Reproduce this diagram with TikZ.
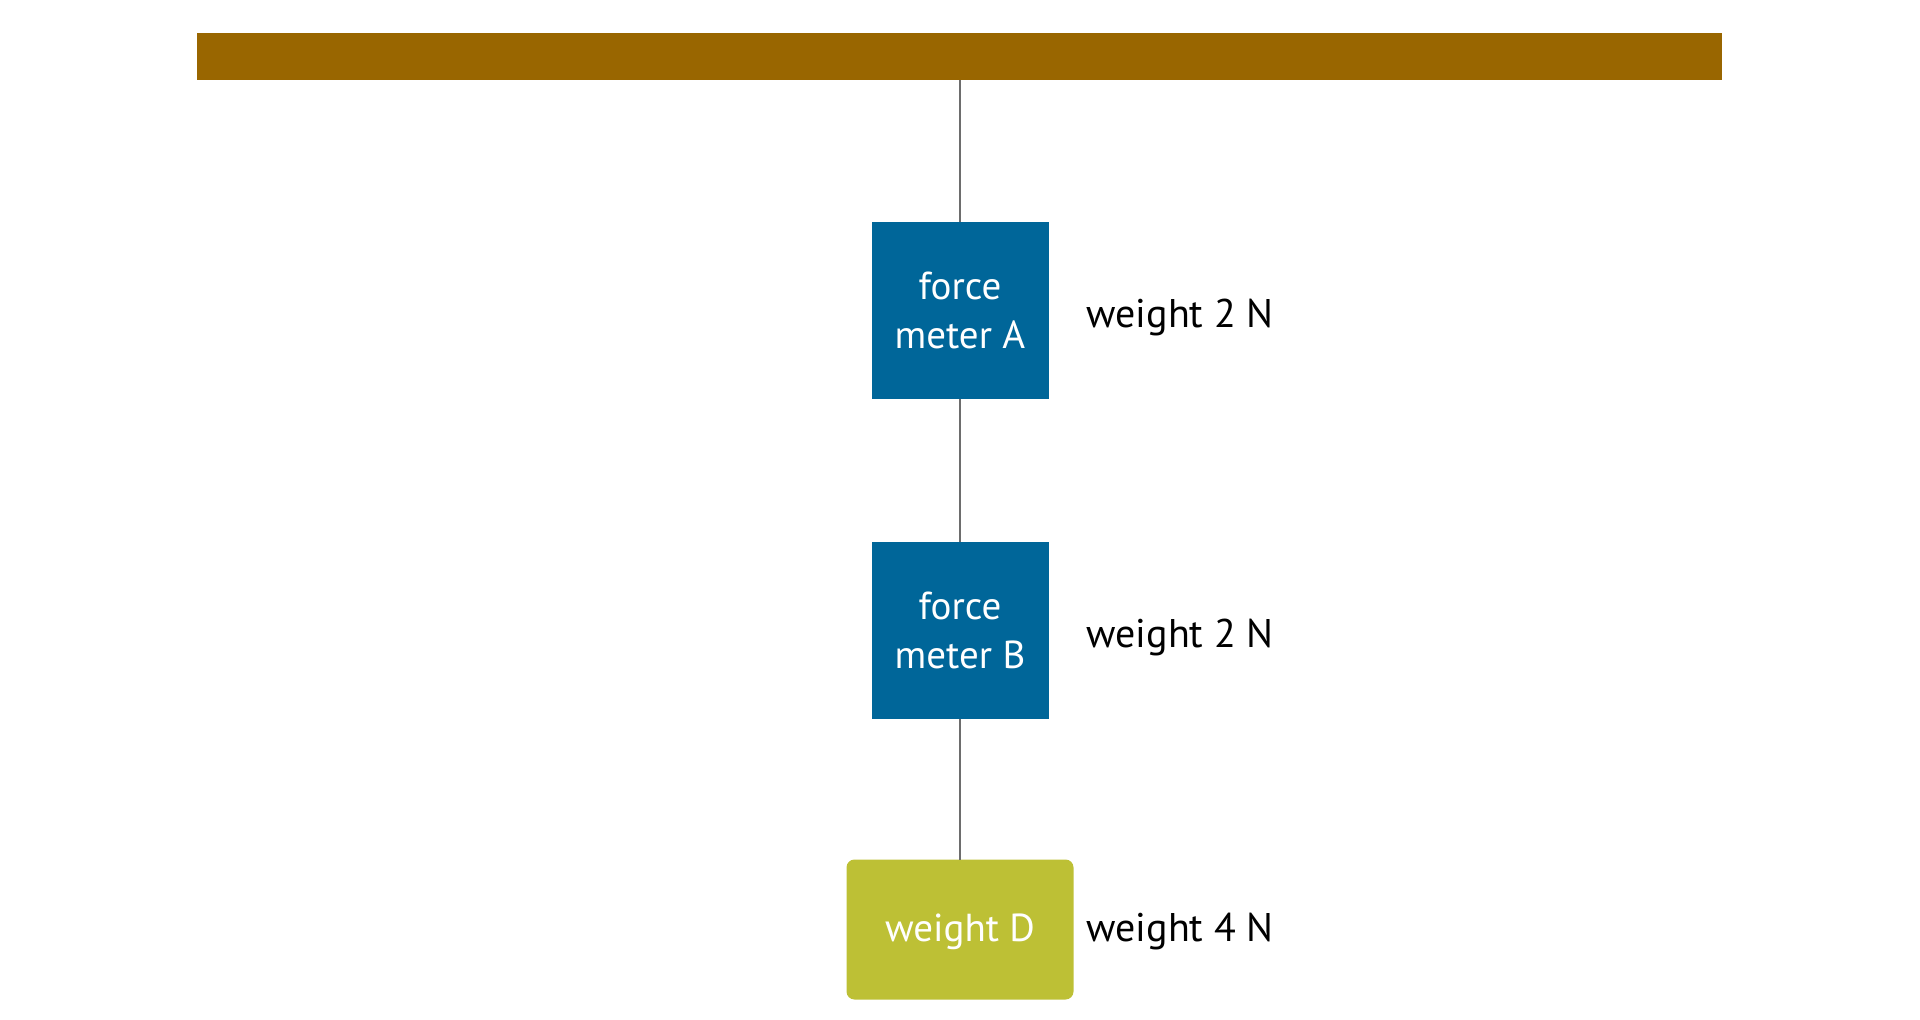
\documentclass[tikz,border=0pt]{standalone}
\usepackage{fontspec}
\setmainfont{PT Sans}
\usepackage{tikz}
\usetikzlibrary{calc}

\definecolor{beamcol}{HTML}{996600}
\definecolor{metercol}{HTML}{006699}
\definecolor{masscol}{HTML}{BDC035}
\definecolor{stringcol}{HTML}{6D6D6D}

\begin{document}
\begin{tikzpicture}[x=1pt,y=-1pt,inner sep=0pt,outer sep=0pt,
    meter/.style={fill=metercol, minimum width=177pt, minimum height=177pt,
      text=white, align=center, font=\fontsize{39}{49}\selectfont},
    mass/.style={fill=masscol, rounded corners=8pt, minimum width=227pt,
      minimum height=140pt, text=white, font=\fontsize{39}{49}\selectfont},
    reading/.style={anchor=base west, font=\fontsize{40}{48}\selectfont},
    string/.style={draw=stringcol, line width=2pt}]
    \useasboundingbox (0,0) rectangle (1920,1020);

    % ceiling
    \node[fill=beamcol, minimum width=1525pt, minimum height=47pt] (beam) at (959.5, 56.5) {};

    % force meter A
    \node[meter] (meterA) at (960, 310) {force\\meter A};
    \node[reading] (readA) at ($(meterA.east) + (38pt, -17pt)$) {weight 2 N};

    % force meter B
    \node[meter] (meterB) at (960, 630) {force\\meter B};
    \node[reading] (readB) at ($(meterB.east) + (38pt, -17pt)$) {weight 2 N};

    % weight D
    \node[mass] (massD) at (960, 929.5) {};
    \node[anchor=base, text=white, font=\fontsize{39}{49}\selectfont] (massDtext)
    at ($(massD.center) + (0pt, -12pt)$) {weight D};
    \node[reading] (readD) at ($(massD.east) + (13pt, -12pt)$) {weight 4 N};

    % strings
    \draw[string] (meterA.north |- beam.south) -- (meterA.north);
    \draw[string] (meterA.south) -- (meterB.north);
    \draw[string] (meterB.south) -- (massD.north);

\end{tikzpicture}
\end{document}
